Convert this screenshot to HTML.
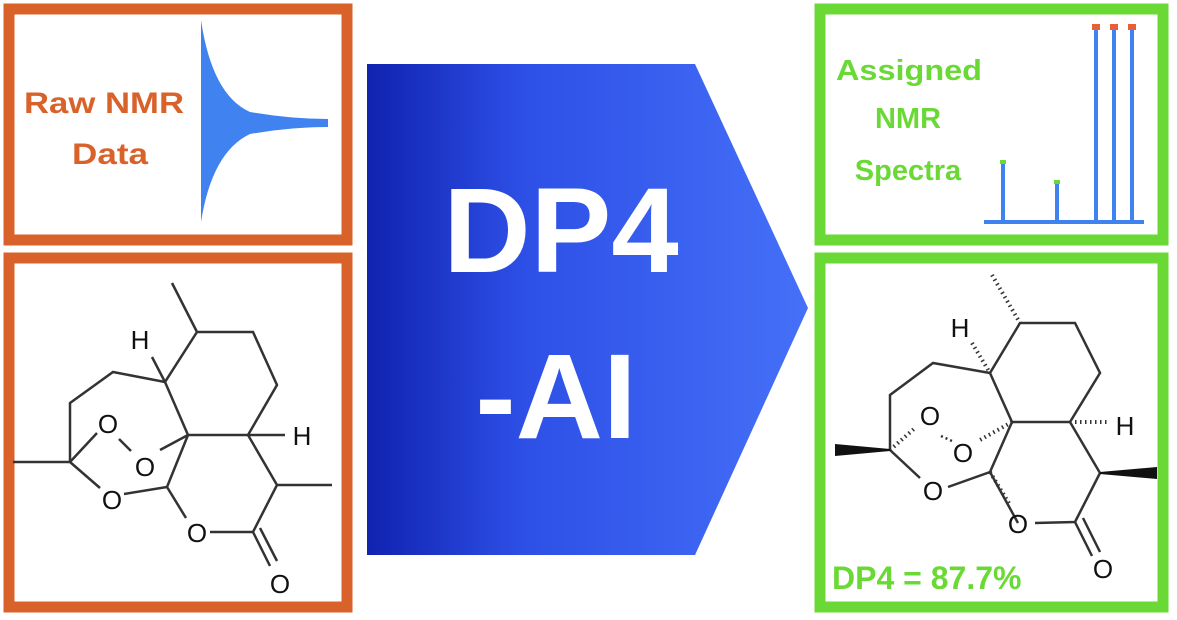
<!DOCTYPE html>
<html><head><meta charset="utf-8"><style>
html,body{margin:0;padding:0;background:#fff;}
svg{display:block;}
text{font-family:"Liberation Sans",sans-serif;}
</style></head><body>
<svg width="1177" height="620" viewBox="0 0 1177 620" xmlns="http://www.w3.org/2000/svg">
<defs>
<linearGradient id="g" x1="0" x2="1" y1="0" y2="0">
<stop offset="0" stop-color="#1022b0"/><stop offset="0.35" stop-color="#2d4fe6"/><stop offset="1" stop-color="#4570f8"/>
</linearGradient>
</defs>
<rect x="9" y="9" width="338" height="231" fill="#fff" stroke="#d9612a" stroke-width="11"/>
<rect x="9" y="258" width="338" height="349" fill="#fff" stroke="#d9612a" stroke-width="11"/>
<rect x="820" y="9" width="343" height="231" fill="#fff" stroke="#6ad936" stroke-width="11"/>
<rect x="820" y="258" width="343" height="349" fill="#fff" stroke="#6ad936" stroke-width="11"/>
<polygon points="367,64 695,64 808,308 695,555 367,555" fill="url(#g)"/>
<text x="561" y="272" font-size="121" font-weight="bold" fill="#fff" text-anchor="middle">DP4</text>
<text x="556" y="438" font-size="121" font-weight="bold" fill="#fff" text-anchor="middle">-AI</text>
<text x="24" y="113" font-size="30" font-weight="bold" fill="#d9612a" textLength="160" lengthAdjust="spacingAndGlyphs">Raw NMR</text>
<text x="72" y="164" font-size="30" font-weight="bold" fill="#d9612a" textLength="76" lengthAdjust="spacingAndGlyphs">Data</text>
<path d="M201,20 Q212,95 250,112 Q290,119 328,119 L328,127 Q290,127 250,134 Q212,152 201,222 Z" fill="#3f82f0"/>
<text x="836" y="80" font-size="29" font-weight="bold" fill="#6ad936" textLength="146" lengthAdjust="spacingAndGlyphs">Assigned</text>
<text x="908" y="128" font-size="29" font-weight="bold" fill="#6ad936" text-anchor="middle">NMR</text>
<text x="908" y="180" font-size="29" font-weight="bold" fill="#6ad936" text-anchor="middle">Spectra</text>
<g stroke="#3f82f0" stroke-width="4" fill="none">
<path d="M984,222 H1144"/>
<path d="M1003,222 V163 M1057,222 V183 M1096,222 V28 M1114,222 V28 M1132,222 V28"/>
</g>
<g fill="#e8603a"><rect x="1092" y="24" width="8" height="6"/><rect x="1110" y="24" width="8" height="6"/><rect x="1128" y="24" width="8" height="6"/></g>
<g fill="#6ad936"><rect x="1000" y="160" width="6" height="4"/><rect x="1054" y="180" width="6" height="4"/></g>
<!-- left molecule -->
<g stroke="#333" stroke-width="2.5" fill="none">
<path d="M197,332 L253,332 L277,385 L248,435 L188,435 L165,382 Z"/>
<path d="M172,283 L197,332"/>
<path d="M165,382 L152,357"/>
<path d="M165,382 L113,372 L70,403 L70,462 L13,462"/>
<path d="M70,462 L97,433 M119,439 L131,451 M160,450 L188,435"/>
<path d="M70,462 L100,488 M124,494 L167,487 L188,435 M167,487 L186,518 M210,532 L253,532 L277,485 L248,435 M277,485 L332,485"/>
<path d="M253,532 L270,566 M260,528 L277,561"/>
<path d="M248,435 L285,435"/>
</g>
<g font-size="26" fill="#111" text-anchor="middle">
<text x="140" y="349">H</text><text x="302" y="445">H</text>
<text x="108" y="433">O</text><text x="145" y="476">O</text><text x="112" y="509">O</text>
<text x="197" y="542">O</text><text x="280" y="593">O</text>
</g>
<!-- right molecule -->
<g stroke="#333" stroke-width="2.5" fill="none">
<path d="M1020,323 L1075,323 L1100,373 L1070,422 L1012,422 L990,373 Z"/>
<path d="M990,373 L933,363 L890,395 L890,450"/>
<path d="M890,450 L920,478 M948,487 L990,472 L1012,422 M990,472 L1018,523 M1035,523 L1075,522 L1100,473 L1070,422"/>
<path d="M1075,522 L1092,556 M1083,518 L1100,552"/>
<path d="M941,436 L952,441" stroke-dasharray="2,3"/>
</g>
<g stroke="#333" stroke-width="4" stroke-dasharray="1.5,3.5">
<path d="M992,275 L1020,323"/><path d="M972,343 L990,373"/><path d="M1070,422 L1108,422"/>
<path d="M890,450 L915,428"/><path d="M1012,422 L980,440"/><path d="M990,472 L1010,505"/>
</g>
<polygon points="835,444 890,449 890,451 835,456" fill="#111"/>
<polygon points="1157,467 1157,479 1100,474 1100,472" fill="#111"/>
<g font-size="26" fill="#111" text-anchor="middle">
<text x="960" y="337">H</text><text x="1125" y="435">H</text>
<text x="930" y="425">O</text><text x="963" y="462">O</text><text x="933" y="500">O</text>
<text x="1018" y="533">O</text><text x="1103" y="578">O</text>
</g>
<text x="832" y="589" font-size="32" font-weight="bold" fill="#6ad936">DP4 = 87.7%</text>
</svg>
</body></html>
